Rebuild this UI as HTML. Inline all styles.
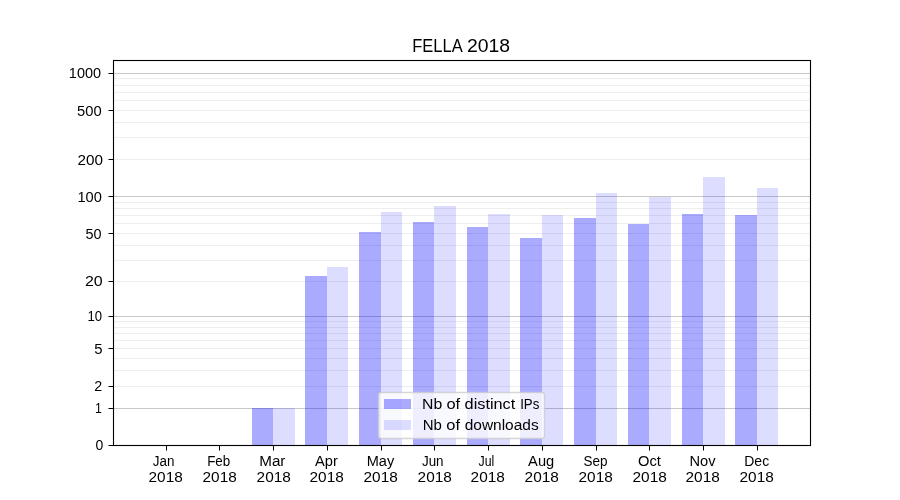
<!DOCTYPE html><html><head><meta charset="utf-8"><style>html,body{margin:0;padding:0;background:#fff;width:900px;height:500px;overflow:hidden}svg{display:block;will-change:transform}text{font-family:"Liberation Sans",sans-serif;fill:#000}</style></head><body>
<svg width="900" height="500" viewBox="0 0 900 500">
<rect x="0" y="0" width="900" height="500" fill="#fff"/>
<g shape-rendering="crispEdges">
<rect x="114" y="78" width="696" height="1" fill="#eeeeee"/>
<rect x="114" y="85" width="696" height="1" fill="#eeeeee"/>
<rect x="114" y="92" width="696" height="1" fill="#eeeeee"/>
<rect x="114" y="100" width="696" height="1" fill="#eeeeee"/>
<rect x="114" y="110" width="696" height="1" fill="#eeeeee"/>
<rect x="114" y="122" width="696" height="1" fill="#eeeeee"/>
<rect x="114" y="137" width="696" height="1" fill="#eeeeee"/>
<rect x="114" y="159" width="696" height="1" fill="#eeeeee"/>
<rect x="114" y="202" width="696" height="1" fill="#eeeeee"/>
<rect x="114" y="208" width="696" height="1" fill="#eeeeee"/>
<rect x="114" y="215" width="696" height="1" fill="#eeeeee"/>
<rect x="114" y="223" width="696" height="1" fill="#eeeeee"/>
<rect x="114" y="233" width="696" height="1" fill="#eeeeee"/>
<rect x="114" y="245" width="696" height="1" fill="#eeeeee"/>
<rect x="114" y="260" width="696" height="1" fill="#eeeeee"/>
<rect x="114" y="281" width="696" height="1" fill="#eeeeee"/>
<rect x="114" y="321" width="696" height="1" fill="#eeeeee"/>
<rect x="114" y="327" width="696" height="1" fill="#eeeeee"/>
<rect x="114" y="333" width="696" height="1" fill="#eeeeee"/>
<rect x="114" y="340" width="696" height="1" fill="#eeeeee"/>
<rect x="114" y="348" width="696" height="1" fill="#eeeeee"/>
<rect x="114" y="358" width="696" height="1" fill="#eeeeee"/>
<rect x="114" y="370" width="696" height="1" fill="#eeeeee"/>
<rect x="114" y="386" width="696" height="1" fill="#eeeeee"/>
<rect x="114" y="73" width="696" height="1" fill="#c8c8c8"/>
<rect x="114" y="196" width="696" height="1" fill="#c8c8c8"/>
<rect x="114" y="316" width="696" height="1" fill="#c8c8c8"/>
<rect x="114" y="408" width="696" height="1" fill="#c8c8c8"/>
</g><g shape-rendering="crispEdges">
<rect x="252" y="408" width="21" height="37" fill="#0000ff" fill-opacity="0.3333"/>
<rect x="273" y="408" width="22" height="37" fill="#0000ff" fill-opacity="0.1333"/>
<rect x="305" y="276" width="22" height="169" fill="#0000ff" fill-opacity="0.3333"/>
<rect x="327" y="267" width="21" height="178" fill="#0000ff" fill-opacity="0.1333"/>
<rect x="359" y="232" width="22" height="213" fill="#0000ff" fill-opacity="0.3333"/>
<rect x="381" y="212" width="21" height="233" fill="#0000ff" fill-opacity="0.1333"/>
<rect x="413" y="222" width="21" height="223" fill="#0000ff" fill-opacity="0.3333"/>
<rect x="434" y="206" width="22" height="239" fill="#0000ff" fill-opacity="0.1333"/>
<rect x="467" y="227" width="21" height="218" fill="#0000ff" fill-opacity="0.3333"/>
<rect x="488" y="214" width="22" height="231" fill="#0000ff" fill-opacity="0.1333"/>
<rect x="520" y="238" width="22" height="207" fill="#0000ff" fill-opacity="0.3333"/>
<rect x="542" y="215" width="21" height="230" fill="#0000ff" fill-opacity="0.1333"/>
<rect x="574" y="218" width="22" height="227" fill="#0000ff" fill-opacity="0.3333"/>
<rect x="596" y="193" width="21" height="252" fill="#0000ff" fill-opacity="0.1333"/>
<rect x="628" y="224" width="21" height="221" fill="#0000ff" fill-opacity="0.3333"/>
<rect x="649" y="197" width="22" height="248" fill="#0000ff" fill-opacity="0.1333"/>
<rect x="682" y="214" width="21" height="231" fill="#0000ff" fill-opacity="0.3333"/>
<rect x="703" y="177" width="22" height="268" fill="#0000ff" fill-opacity="0.1333"/>
<rect x="735" y="215" width="22" height="230" fill="#0000ff" fill-opacity="0.3333"/>
<rect x="757" y="188" width="21" height="257" fill="#0000ff" fill-opacity="0.1333"/>
</g>
<g shape-rendering="crispEdges">
<g fill="#000" fill-opacity="0.055">
<rect x="112" y="59" width="700" height="1"/>
<rect x="112" y="61" width="700" height="1"/>
<rect x="112" y="444" width="700" height="1"/>
<rect x="112" y="446" width="700" height="1"/>
<rect x="112" y="62" width="1" height="382"/>
<rect x="114" y="62" width="1" height="382"/>
<rect x="809" y="62" width="1" height="382"/>
<rect x="811" y="62" width="1" height="382"/>
</g>
</g>
<g shape-rendering="crispEdges" fill="#000">
<rect x="113" y="60" width="698" height="1"/>
<rect x="113" y="445" width="698" height="1"/>
<rect x="113" y="60" width="1" height="386"/>
<rect x="810" y="60" width="1" height="386"/>
<rect x="166" y="446" width="1" height="4"/>
<rect x="166" y="450" width="1" height="1" fill="#808080"/>
<rect x="219" y="446" width="1" height="4"/>
<rect x="219" y="450" width="1" height="1" fill="#808080"/>
<rect x="273" y="446" width="1" height="4"/>
<rect x="273" y="450" width="1" height="1" fill="#808080"/>
<rect x="327" y="446" width="1" height="4"/>
<rect x="327" y="450" width="1" height="1" fill="#808080"/>
<rect x="381" y="446" width="1" height="4"/>
<rect x="381" y="450" width="1" height="1" fill="#808080"/>
<rect x="434" y="446" width="1" height="4"/>
<rect x="434" y="450" width="1" height="1" fill="#808080"/>
<rect x="488" y="446" width="1" height="4"/>
<rect x="488" y="450" width="1" height="1" fill="#808080"/>
<rect x="542" y="446" width="1" height="4"/>
<rect x="542" y="450" width="1" height="1" fill="#808080"/>
<rect x="596" y="446" width="1" height="4"/>
<rect x="596" y="450" width="1" height="1" fill="#808080"/>
<rect x="649" y="446" width="1" height="4"/>
<rect x="649" y="450" width="1" height="1" fill="#808080"/>
<rect x="703" y="446" width="1" height="4"/>
<rect x="703" y="450" width="1" height="1" fill="#808080"/>
<rect x="757" y="446" width="1" height="4"/>
<rect x="757" y="450" width="1" height="1" fill="#808080"/>
<rect x="109" y="73" width="4" height="1"/>
<rect x="108" y="73" width="1" height="1" fill="#808080"/>
<rect x="109" y="110" width="4" height="1"/>
<rect x="108" y="110" width="1" height="1" fill="#808080"/>
<rect x="109" y="159" width="4" height="1"/>
<rect x="108" y="159" width="1" height="1" fill="#808080"/>
<rect x="109" y="196" width="4" height="1"/>
<rect x="108" y="196" width="1" height="1" fill="#808080"/>
<rect x="109" y="233" width="4" height="1"/>
<rect x="108" y="233" width="1" height="1" fill="#808080"/>
<rect x="109" y="281" width="4" height="1"/>
<rect x="108" y="281" width="1" height="1" fill="#808080"/>
<rect x="109" y="316" width="4" height="1"/>
<rect x="108" y="316" width="1" height="1" fill="#808080"/>
<rect x="109" y="348" width="4" height="1"/>
<rect x="108" y="348" width="1" height="1" fill="#808080"/>
<rect x="109" y="386" width="4" height="1"/>
<rect x="108" y="386" width="1" height="1" fill="#808080"/>
<rect x="109" y="408" width="4" height="1"/>
<rect x="108" y="408" width="1" height="1" fill="#808080"/>
<rect x="109" y="445" width="4" height="1"/>
<rect x="108" y="445" width="1" height="1" fill="#808080"/>
</g>
<rect x="378.64" y="392.5" width="165.85" height="46.0" rx="2.78" ry="2.78" fill="#fff" fill-opacity="0.8" stroke="#cccccc" stroke-opacity="0.8" stroke-width="1.39"/>
<g shape-rendering="crispEdges">
<rect x="384" y="399" width="27" height="10" fill="#0000ff" fill-opacity="0.3333"/>
<rect x="384" y="420" width="27" height="10" fill="#0000ff" fill-opacity="0.1333"/>
</g>
<text x="103.32" y="450.13" font-size="14.00" text-anchor="end" textLength="7.80" lengthAdjust="spacingAndGlyphs">0</text>
<text x="101.98" y="412.53" font-size="14.00" text-anchor="end" textLength="6.87" lengthAdjust="spacingAndGlyphs">1</text>
<text x="102.31" y="391.09" font-size="14.00" text-anchor="end" textLength="7.96" lengthAdjust="spacingAndGlyphs">2</text>
<text x="102.44" y="354.15" font-size="14.00" text-anchor="end" textLength="8.29" lengthAdjust="spacingAndGlyphs">5</text>
<text x="102.18" y="320.57" font-size="14.00" text-anchor="end" textLength="14.61" lengthAdjust="spacingAndGlyphs">10</text>
<text x="102.72" y="286.21" font-size="14.00" text-anchor="end" textLength="17.80" lengthAdjust="spacingAndGlyphs">20</text>
<text x="101.58" y="239.05" font-size="14.00" text-anchor="end" textLength="16.07" lengthAdjust="spacingAndGlyphs">50</text>
<text x="101.85" y="201.57" font-size="14.00" text-anchor="end" textLength="24.42" lengthAdjust="spacingAndGlyphs">100</text>
<text x="103.00" y="164.92" font-size="14.00" text-anchor="end" textLength="25.48" lengthAdjust="spacingAndGlyphs">200</text>
<text x="101.59" y="115.98" font-size="14.00" text-anchor="end" textLength="24.56" lengthAdjust="spacingAndGlyphs">500</text>
<text x="101.08" y="77.86" font-size="14.00" text-anchor="end" textLength="32.19" lengthAdjust="spacingAndGlyphs">1000</text>
<text x="163.56" y="465.94" font-size="14.00" text-anchor="middle" textLength="21.61" lengthAdjust="spacingAndGlyphs">Jan</text>
<text x="165.69" y="481.71" font-size="14.00" text-anchor="middle" textLength="34.27" lengthAdjust="spacingAndGlyphs">2018</text>
<text x="218.73" y="465.94" font-size="14.00" text-anchor="middle" textLength="23.08" lengthAdjust="spacingAndGlyphs">Feb</text>
<text x="219.67" y="481.71" font-size="14.00" text-anchor="middle" textLength="34.20" lengthAdjust="spacingAndGlyphs">2018</text>
<text x="272.34" y="465.94" font-size="14.00" text-anchor="middle" textLength="26.22" lengthAdjust="spacingAndGlyphs">Mar</text>
<text x="273.70" y="481.71" font-size="14.00" text-anchor="middle" textLength="34.27" lengthAdjust="spacingAndGlyphs">2018</text>
<text x="326.39" y="465.94" font-size="14.00" text-anchor="middle" textLength="22.79" lengthAdjust="spacingAndGlyphs">Apr</text>
<text x="326.65" y="481.71" font-size="14.00" text-anchor="middle" textLength="34.27" lengthAdjust="spacingAndGlyphs">2018</text>
<text x="380.42" y="465.94" font-size="14.00" text-anchor="middle" textLength="27.51" lengthAdjust="spacingAndGlyphs">May</text>
<text x="380.69" y="481.71" font-size="14.00" text-anchor="middle" textLength="34.27" lengthAdjust="spacingAndGlyphs">2018</text>
<text x="432.77" y="465.94" font-size="14.00" text-anchor="middle" textLength="21.60" lengthAdjust="spacingAndGlyphs">Jun</text>
<text x="434.70" y="481.71" font-size="14.00" text-anchor="middle" textLength="34.20" lengthAdjust="spacingAndGlyphs">2018</text>
<text x="486.46" y="465.94" font-size="14.00" text-anchor="middle" textLength="15.74" lengthAdjust="spacingAndGlyphs">Jul</text>
<text x="487.70" y="481.71" font-size="14.00" text-anchor="middle" textLength="34.27" lengthAdjust="spacingAndGlyphs">2018</text>
<text x="541.18" y="465.94" font-size="14.00" text-anchor="middle" textLength="26.09" lengthAdjust="spacingAndGlyphs">Aug</text>
<text x="541.70" y="481.71" font-size="14.00" text-anchor="middle" textLength="34.27" lengthAdjust="spacingAndGlyphs">2018</text>
<text x="595.40" y="465.94" font-size="14.00" text-anchor="middle" textLength="24.02" lengthAdjust="spacingAndGlyphs">Sep</text>
<text x="595.66" y="481.71" font-size="14.00" text-anchor="middle" textLength="34.27" lengthAdjust="spacingAndGlyphs">2018</text>
<text x="649.38" y="465.94" font-size="14.00" text-anchor="middle" textLength="22.82" lengthAdjust="spacingAndGlyphs">Oct</text>
<text x="649.67" y="481.71" font-size="14.00" text-anchor="middle" textLength="34.33" lengthAdjust="spacingAndGlyphs">2018</text>
<text x="702.54" y="465.94" font-size="14.00" text-anchor="middle" textLength="26.07" lengthAdjust="spacingAndGlyphs">Nov</text>
<text x="702.68" y="481.71" font-size="14.00" text-anchor="middle" textLength="34.27" lengthAdjust="spacingAndGlyphs">2018</text>
<text x="756.69" y="465.94" font-size="14.00" text-anchor="middle" textLength="24.91" lengthAdjust="spacingAndGlyphs">Dec</text>
<text x="756.68" y="481.71" font-size="14.00" text-anchor="middle" textLength="34.27" lengthAdjust="spacingAndGlyphs">2018</text>
<text x="437.42" y="51.77" font-size="17.50" text-anchor="middle" textLength="50.43" lengthAdjust="spacingAndGlyphs">FELLA</text>
<text x="488.60" y="51.77" font-size="17.50" text-anchor="middle" textLength="43.15" lengthAdjust="spacingAndGlyphs">2018</text>
<text x="432.18" y="408.78" font-size="14.00" text-anchor="middle" textLength="20.20" lengthAdjust="spacingAndGlyphs">Nb</text>
<text x="453.30" y="408.78" font-size="14.00" text-anchor="middle" textLength="13.72" lengthAdjust="spacingAndGlyphs">of</text>
<text x="489.93" y="408.78" font-size="14.00" text-anchor="middle" textLength="50.67" lengthAdjust="spacingAndGlyphs">distinct</text>
<text x="529.72" y="408.78" font-size="14.00" text-anchor="middle" textLength="19.17" lengthAdjust="spacingAndGlyphs">IPs</text>
<text x="432.29" y="429.92" font-size="14.00" text-anchor="middle" textLength="19.14" lengthAdjust="spacingAndGlyphs">Nb</text>
<text x="453.17" y="429.92" font-size="14.00" text-anchor="middle" textLength="13.72" lengthAdjust="spacingAndGlyphs">of</text>
<text x="501.67" y="429.92" font-size="14.00" text-anchor="middle" textLength="73.97" lengthAdjust="spacingAndGlyphs">downloads</text>
</svg></body></html>
